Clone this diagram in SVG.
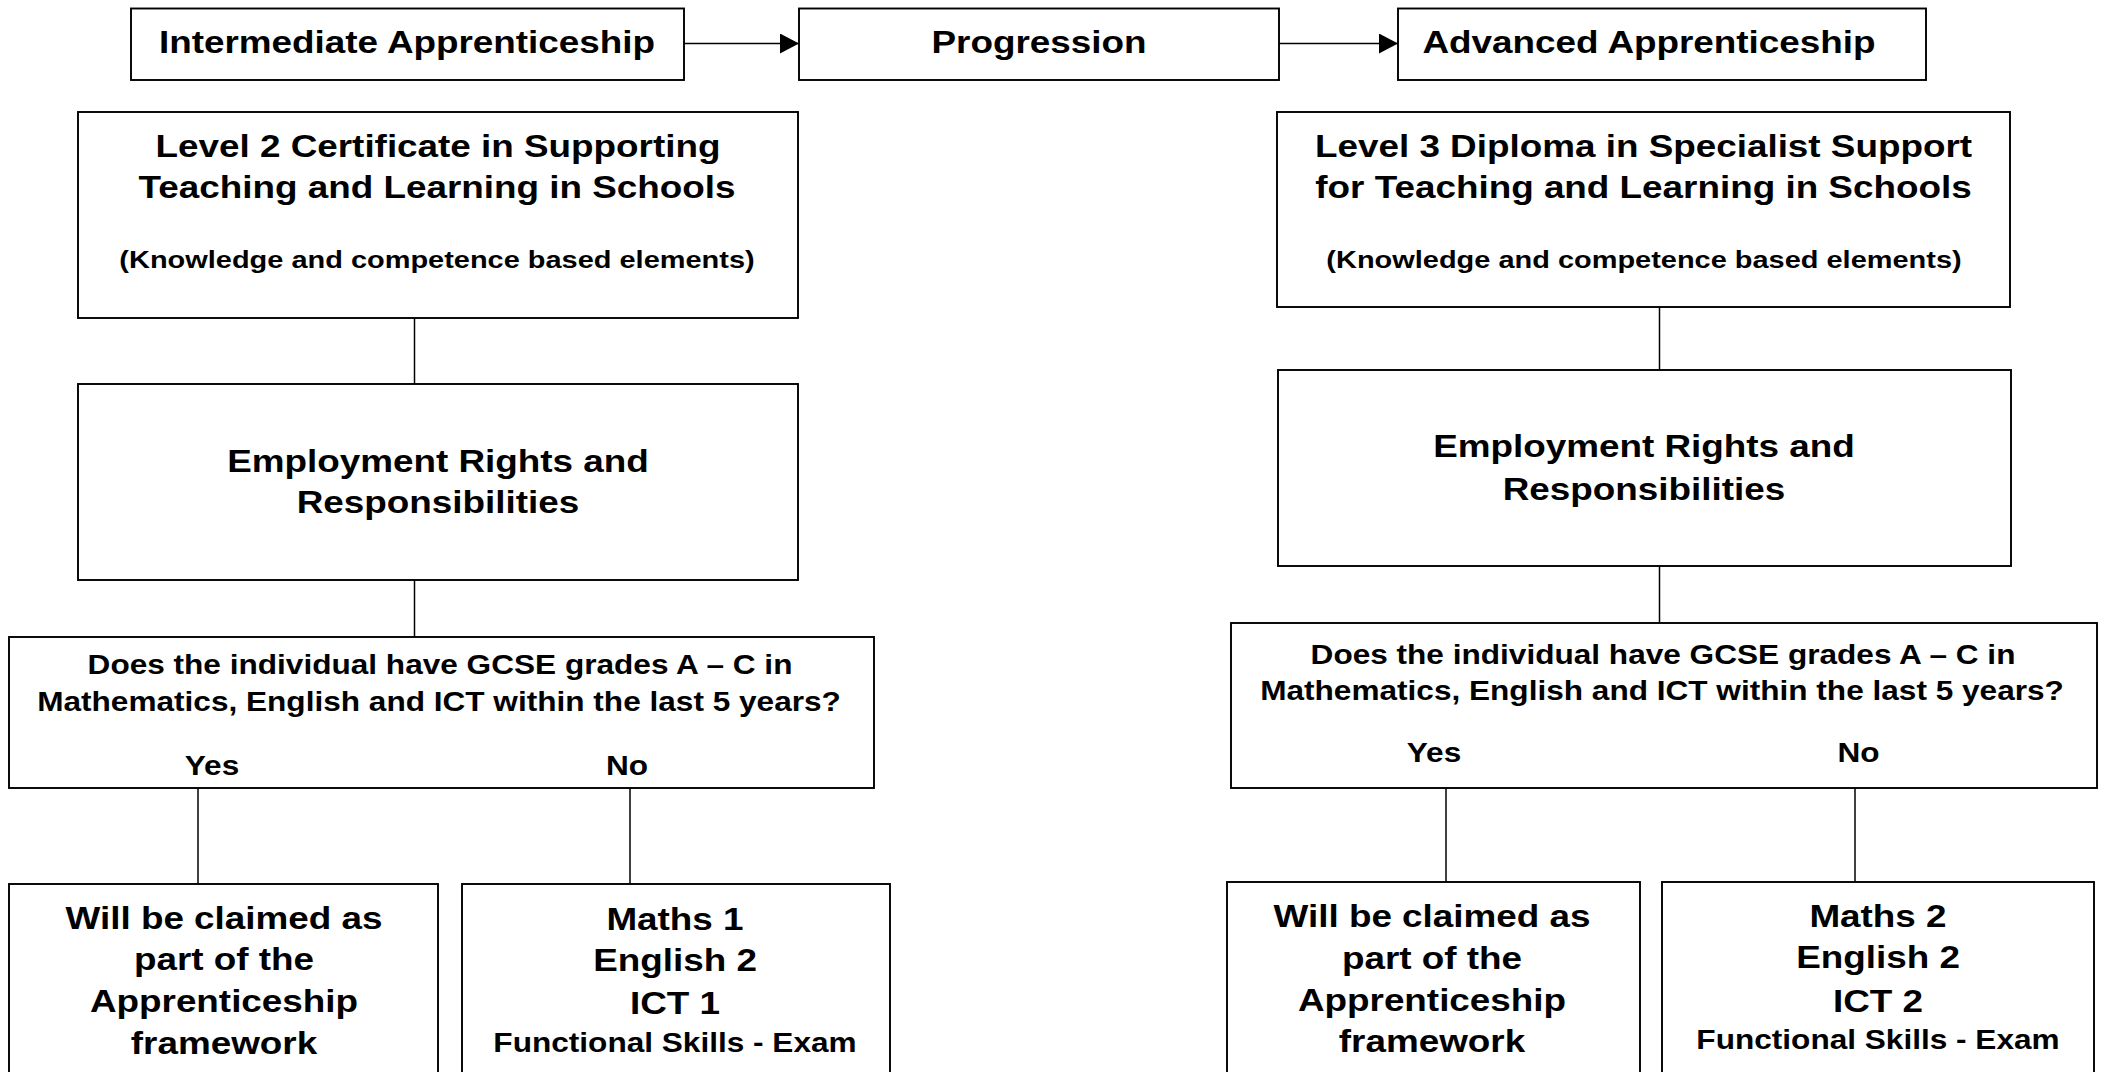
<svg xmlns="http://www.w3.org/2000/svg" width="2102" height="1072" viewBox="0 0 2102 1072">
<style>
  .box { fill: #fff; stroke: #000; stroke-width: 1.9; }
  .con { stroke: #000; stroke-width: 1.5; fill: none; }
  text { font-family: "Liberation Sans", Arial, sans-serif; font-weight: bold; fill: #000; text-anchor: middle; }
  .L { font-size: 31.5px; }
  .M { font-size: 27px; }
  .S { font-size: 24.75px; }
</style>
<defs>
  <marker id="arrow" markerUnits="userSpaceOnUse" markerWidth="20" markerHeight="20" refX="19" refY="10" orient="auto">
    <path d="M0,0 L19,10 L0,20 z" fill="#000"/>
  </marker>
</defs>
<rect width="2102" height="1072" fill="#fff"/>

<g id="connectors">
  <line class="con" x1="684" y1="43.5" x2="799" y2="43.5" marker-end="url(#arrow)"/>
  <line class="con" x1="1279" y1="43.5" x2="1398" y2="43.5" marker-end="url(#arrow)"/>
  <line class="con" x1="414.5" y1="318" x2="414.5" y2="384"/>
  <line class="con" x1="414.5" y1="580" x2="414.5" y2="637"/>
  <line class="con" x1="198" y1="788" x2="198" y2="884"/>
  <line class="con" x1="630" y1="788" x2="630" y2="884"/>
  <line class="con" x1="1659.5" y1="307" x2="1659.5" y2="370"/>
  <line class="con" x1="1659.5" y1="566" x2="1659.5" y2="623"/>
  <line class="con" x1="1446" y1="788" x2="1446" y2="882"/>
  <line class="con" x1="1855" y1="788" x2="1855" y2="882"/>
</g>

<g id="intermediate">
  <rect class="box" x="131" y="8.5" width="553" height="71.5"/>
  <text class="L" transform="translate(407 53) scale(1.17 1)">Intermediate Apprenticeship</text>
</g>
<g id="progression">
  <rect class="box" x="799" y="8.5" width="480" height="71.5"/>
  <text class="L" transform="translate(1039 53) scale(1.17 1)">Progression</text>
</g>
<g id="advanced">
  <rect class="box" x="1398" y="8.5" width="528" height="71.5"/>
  <text class="L" transform="translate(1649 53) scale(1.17 1)">Advanced Apprenticeship</text>
</g>

<g id="level2">
  <rect class="box" x="78" y="112" width="720" height="206"/>
  <text class="L" transform="translate(438 157) scale(1.17 1)">Level 2 Certificate in Supporting</text>
  <text class="L" transform="translate(437 198) scale(1.17 1)">Teaching and Learning in Schools</text>
  <text class="S" transform="translate(437 268) scale(1.17 1)">(Knowledge and competence based elements)</text>
</g>
<g id="level3">
  <rect class="box" x="1277" y="112" width="733" height="195"/>
  <text class="L" transform="translate(1643.5 157) scale(1.17 1)">Level 3 Diploma in Specialist Support</text>
  <text class="L" transform="translate(1643.5 198) scale(1.17 1)">for Teaching and Learning in Schools</text>
  <text class="S" transform="translate(1644 268) scale(1.17 1)">(Knowledge and competence based elements)</text>
</g>

<g id="employment-left">
  <rect class="box" x="78" y="384" width="720" height="196"/>
  <text class="L" transform="translate(438 472) scale(1.17 1)">Employment Rights and</text>
  <text class="L" transform="translate(438 513) scale(1.17 1)">Responsibilities</text>
</g>
<g id="employment-right">
  <rect class="box" x="1278" y="370" width="733" height="196"/>
  <text class="L" transform="translate(1644 457) scale(1.17 1)">Employment Rights and</text>
  <text class="L" transform="translate(1644 500) scale(1.17 1)">Responsibilities</text>
</g>

<g id="gcse-left">
  <rect class="box" x="9" y="637" width="865" height="151"/>
  <text class="M" transform="translate(440 674) scale(1.17 1)">Does the individual have GCSE grades A – C in</text>
  <text class="M" transform="translate(439 711) scale(1.17 1)">Mathematics, English and ICT within the last 5 years?</text>
  <text class="M" transform="translate(212 775) scale(1.17 1)">Yes</text>
  <text class="M" transform="translate(627 775) scale(1.17 1)">No</text>
</g>
<g id="gcse-right">
  <rect class="box" x="1231" y="623" width="866" height="165"/>
  <text class="M" transform="translate(1663 664) scale(1.17 1)">Does the individual have GCSE grades A – C in</text>
  <text class="M" transform="translate(1662 700) scale(1.17 1)">Mathematics, English and ICT within the last 5 years?</text>
  <text class="M" transform="translate(1434 761.5) scale(1.17 1)">Yes</text>
  <text class="M" transform="translate(1858.5 761.5) scale(1.17 1)">No</text>
</g>

<g id="claimed-left">
  <rect class="box" x="9" y="884" width="429" height="200"/>
  <text class="L" transform="translate(224 929) scale(1.17 1)">Will be claimed as</text>
  <text class="L" transform="translate(224 970) scale(1.17 1)">part of the</text>
  <text class="L" transform="translate(224 1012) scale(1.17 1)">Apprenticeship</text>
  <text class="L" transform="translate(224 1054) scale(1.17 1)">framework</text>
</g>
<g id="skills-left">
  <rect class="box" x="462" y="884" width="428" height="200"/>
  <text class="L" transform="translate(675 929.5) scale(1.17 1)">Maths 1</text>
  <text class="L" transform="translate(675 971) scale(1.17 1)">English 2</text>
  <text class="L" transform="translate(675 1013.5) scale(1.17 1)">ICT 1</text>
  <text class="M" transform="translate(675 1051.5) scale(1.17 1)">Functional Skills - Exam</text>
</g>
<g id="claimed-right">
  <rect class="box" x="1227" y="882" width="413" height="200"/>
  <text class="L" transform="translate(1432 927) scale(1.17 1)">Will be claimed as</text>
  <text class="L" transform="translate(1432 968.5) scale(1.17 1)">part of the</text>
  <text class="L" transform="translate(1432 1010.5) scale(1.17 1)">Apprenticeship</text>
  <text class="L" transform="translate(1432 1052) scale(1.17 1)">framework</text>
</g>
<g id="skills-right">
  <rect class="box" x="1662" y="882" width="432" height="200"/>
  <text class="L" transform="translate(1878 926.7) scale(1.17 1)">Maths 2</text>
  <text class="L" transform="translate(1878 968) scale(1.17 1)">English 2</text>
  <text class="L" transform="translate(1878 1011.5) scale(1.17 1)">ICT 2</text>
  <text class="M" transform="translate(1878 1048.5) scale(1.17 1)">Functional Skills - Exam</text>
</g>
</svg>
